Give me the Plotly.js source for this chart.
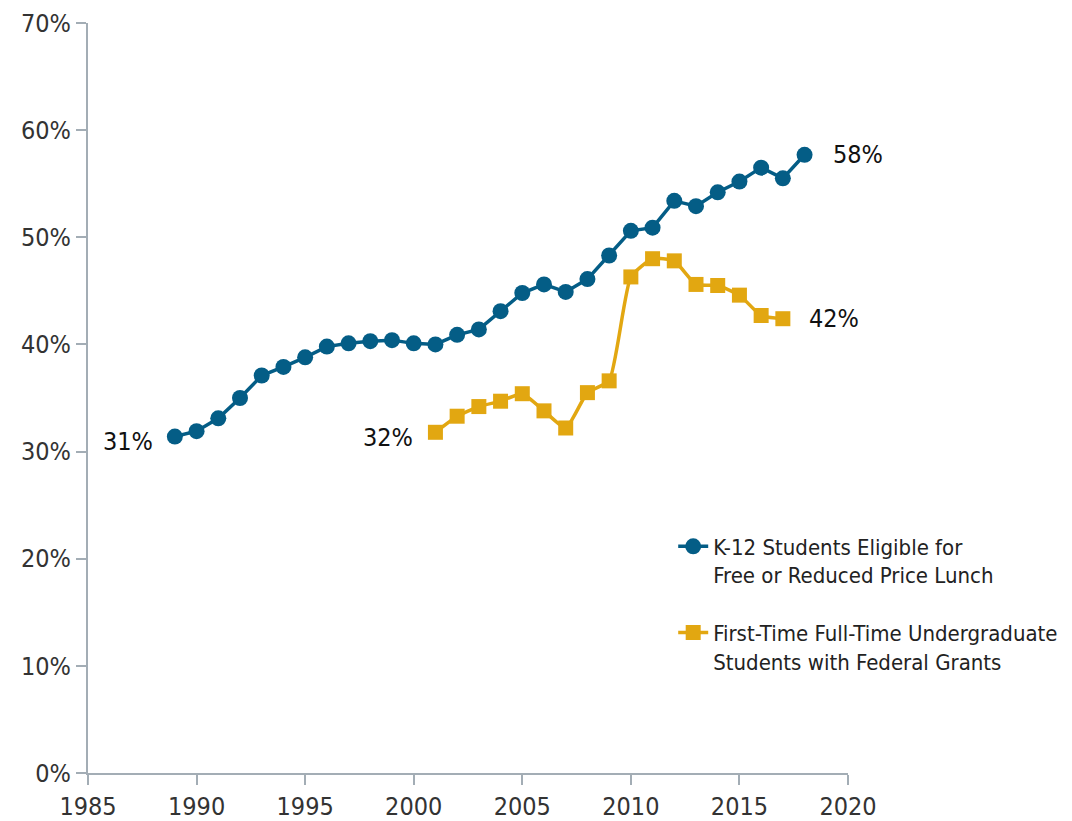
<!DOCTYPE html>
<html>
<head>
<meta charset="utf-8">
<script src="https://cdn.plot.ly/plotly-3.0.1.min.js"></script>
<style>html,body{margin:0;padding:0;background:#fff;}#chart{width:1072px;height:821px;}</style>
</head>
<body>
<div id="chart"></div>
<script>
const k12Years = [1989,1990,1991,1992,1993,1994,1995,1996,1997,1998,1999,2000,2001,2002,2003,2004,2005,2006,2007,2008,2009,2010,2011,2012,2013,2014,2015,2016,2017,2018];
const k12Values = [31.4,31.9,33.1,35.0,37.1,37.9,38.8,39.8,40.1,40.3,40.4,40.1,40.0,40.9,41.4,43.1,44.8,45.6,44.9,46.1,48.3,50.6,50.9,53.4,52.9,54.2,55.2,56.5,55.5,57.7];
const grantYears = [2001,2002,2003,2004,2005,2006,2007,2008,2009,2010,2011,2012,2013,2014,2015,2016,2017];
const grantValues = [31.8,33.3,34.2,34.7,35.4,33.8,32.2,35.5,36.6,46.3,48.0,47.8,45.6,45.5,44.6,42.7,42.4];
const seriesNames = ["K-12 Students Eligible for<br>Free or Reduced Price Lunch", "First-Time Full-Time Undergraduate<br>Students with Federal Grants"];
const yTickVals = [0,10,20,30,40,50,60,70];
const xTickVals = [1985,1990,1995,2000,2005,2010,2015,2020];

const BLUE = '#045d86';
const GOLD = '#e2a711';
const FONT = '"Liberation Sans Narrow", "DejaVu Sans Condensed", Arial, sans-serif';
const AXIS = '#a3adb5';

const traces = [
  {x: k12Years, y: k12Values, name: seriesNames[0], legendgroup: 'a', mode: 'lines+markers', type: 'scatter',
   line: {color: BLUE, width: 3.5}, marker: {symbol: 'circle', size: 16, color: BLUE}},
  {x: grantYears, y: grantValues, name: seriesNames[1], legendgroup: 'b', mode: 'lines+markers', type: 'scatter',
   line: {color: GOLD, width: 3.5, shape: 'spline', smoothing: 0.5}, marker: {symbol: 'square', size: 15, color: GOLD}}
];

const lab = v => Math.round(v) + '%';
const annotations = [
  {x: k12Years[0], y: k12Values[0], text: lab(k12Values[0]), xanchor: 'right', xshift: -20, yshift: -5},
  {x: grantYears[0], y: grantValues[0], text: lab(grantValues[0]), xanchor: 'right', xshift: -20, yshift: -5},
  {x: k12Years[k12Years.length-1], y: k12Values[k12Values.length-1], text: lab(k12Values[k12Values.length-1]), xanchor: 'left', xshift: 26, yshift: 0},
  {x: grantYears[grantYears.length-1], y: grantValues[grantValues.length-1], text: lab(grantValues[grantValues.length-1]), xanchor: 'left', xshift: 24, yshift: 0}
].map(a => Object.assign({xref: 'x', yref: 'y', showarrow: false, yanchor: 'middle',
  font: {family: FONT, size: 25, color: '#111'}}, a));

const layout = {
  width: 1072, height: 821,
  margin: {l: 88, r: 224, t: 23, b: 48, autoexpand: false},
  paper_bgcolor: '#fff', plot_bgcolor: '#fff',
  font: {family: FONT, size: 25, color: '#333'},
  showlegend: true,
  legend: {x: 0.77, y: 0.33, xanchor: 'left', yanchor: 'top', valign: 'top', traceorder: 'grouped',
    font: {family: FONT, size: 22, color: '#222'}, tracegroupgap: 26, bgcolor: 'rgba(0,0,0,0)'},
  xaxis: {range: [1985, 2020], tickvals: xTickVals, ticks: 'outside', ticklen: 10, tickwidth: 2,
    tickcolor: AXIS, showline: true, linecolor: AXIS, linewidth: 2, showgrid: false, zeroline: false,
    tickfont: {family: FONT, size: 25, color: '#333'}},
  yaxis: {range: [0, 70], tickvals: yTickVals, ticktext: yTickVals.map(v => v + '%'), ticks: 'outside', ticklen: 10, tickwidth: 2,
    tickcolor: AXIS, showline: true, linecolor: AXIS, linewidth: 2, showgrid: false, zeroline: false,
    tickfont: {family: FONT, size: 25, color: '#333'}},
  annotations: annotations
};

Plotly.newPlot('chart', traces, layout, {displayModeBar: false, staticPlot: true});
</script>
</body>
</html>
